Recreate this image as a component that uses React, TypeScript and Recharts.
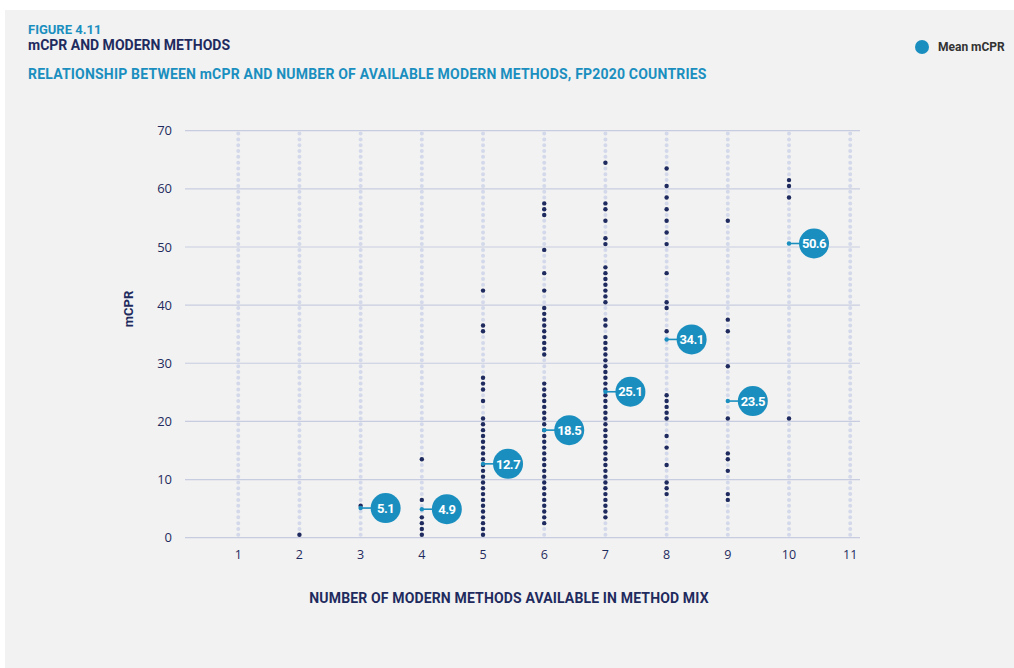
import { ScatterChart, Scatter, XAxis, YAxis, CartesianGrid, ReferenceLine } from 'recharts';

// number of modern methods available in the method mix (x positions)
const methodCounts = [1, 2, 3, 4, 5, 6, 7, 8, 9, 10, 11];
const mcprTicks = [0, 10, 20, 30, 40, 50, 60, 70];

// country mCPR values, one array per method count (dots sit at bin centres)
const mcprTwo = [0.5];
const mcprThree = [5.5];
const mcprFour = [13.5, 6.5, 3.5, 2.5, 1.5, 0.5];
const mcprFive = [
  42.5, 36.5, 35.5, 27.5, 26.5, 25.5, 23.5,
  20.5, 19.5, 18.5, 17.5, 16.5, 15.5, 14.5, 13.5, 12.5, 11.5, 10.5,
  9.5, 8.5, 7.5, 6.5, 5.5, 4.5, 3.5, 2.5, 1.5, 0.5,
];
const mcprSix = [
  57.5, 56.5, 55.5, 49.5, 45.5, 42.5,
  39.5, 38.5, 37.5, 36.5, 35.5, 34.5, 33.5, 32.5, 31.5,
  26.5, 25.5, 24.5, 23.5, 22.5, 21.5, 20.5, 19.5, 18.5, 17.5, 16.5, 15.5, 14.5,
  13.5, 12.5, 11.5, 10.5, 9.5, 8.5, 7.5, 6.5, 5.5, 4.5, 3.5, 2.5,
];
const mcprSeven = [
  64.5, 57.5, 56.5, 54.5, 51.5, 50.5,
  46.5, 45.5, 44.5, 43.5, 42.5, 41.5, 40.5, 37.5, 36.5,
  34.5, 33.5, 32.5, 31.5, 30.5, 29.5, 28.5, 27.5, 26.5, 25.5, 24.5, 23.5, 22.5,
  21.5, 20.5, 19.5, 18.5, 17.5, 16.5, 15.5, 14.5, 13.5, 12.5, 11.5, 10.5, 9.5,
  8.5, 7.5, 6.5, 5.5, 4.5, 3.5,
];
const mcprEight = [
  63.5, 60.5, 58.5, 56.5, 54.5, 52.5, 50.5, 45.5, 40.5, 39.5, 35.5,
  24.5, 23.5, 22.5, 21.5, 20.5, 17.5, 15.5, 12.5, 9.5, 8.5, 7.5,
];
const mcprNine = [54.5, 37.5, 35.5, 29.5, 20.5, 14.5, 13.5, 11.5, 7.5, 6.5];
const mcprTen = [61.5, 60.5, 58.5, 20.5];

// mean mCPR per method count
const meanCounts = [3, 4, 5, 6, 7, 8, 9, 10];
const meanMcpr = [5.1, 4.9, 12.7, 18.5, 25.1, 34.1, 23.5, 50.6];

const countryGroups: [number, number[]][] = [
  [2, mcprTwo], [3, mcprThree], [4, mcprFour], [5, mcprFive], [6, mcprSix],
  [7, mcprSeven], [8, mcprEight], [9, mcprNine], [10, mcprTen],
];
const countryPoints = countryGroups.flatMap(([x, vals]) => vals.map((y) => ({ x, y })));
const meanPoints = meanCounts.map((x, i) => ({ x, y: meanMcpr[i] }));

const NAVY = '#1f2b5e';
const TEAL = '#1a8fbf';
const PLOT_TOP = 130.7;
const PLOT_BOTTOM = 537.7;
const UNIT = (PLOT_BOTTOM - PLOT_TOP) / 70;

function CountryDot(p: any) {
  return <circle cx={p.cx} cy={p.cy} r={2.2} fill={NAVY} />;
}

function MeanMarker(p: any) {
  const { cx, cy, payload } = p;
  return (
    <g>
      <line x1={cx} y1={cy} x2={cx + 12} y2={cy} stroke={TEAL} strokeWidth={1.6} />
      <circle cx={cx} cy={cy} r={2.2} fill={TEAL} />
      <circle cx={cx + 25} cy={cy} r={15} fill={TEAL} />
      <text
        x={cx + 25} y={cy} dy="0.36em" textAnchor="middle"
        fill="#ffffff" fontSize={13} fontWeight={700} fontFamily="Roboto"
        letterSpacing={-0.5}
      >
        {payload.y}
      </text>
    </g>
  );
}

export default function App() {
  return (
    <div style={{ position: 'fixed', left: 0, top: 0, width: 1014, height: 668, background: '#ffffff', overflow: 'hidden' }}>
      <div style={{ position: 'absolute', left: 5, top: 10, width: 1009, height: 658, background: '#f2f2f2' }} />

      <div style={{ position: 'absolute', left: 28, top: 23, fontFamily: 'Roboto', fontWeight: 700, fontSize: 13, lineHeight: '14px', color: TEAL }}>
        FIGURE 4.11
      </div>
      <div style={{ position: 'absolute', left: 28, top: 38, fontFamily: 'Roboto', fontWeight: 700, fontSize: 14, lineHeight: '14px', color: NAVY }}>
        mCPR AND MODERN METHODS
      </div>
      <div style={{ position: 'absolute', left: 28, top: 67, fontFamily: 'Roboto', fontWeight: 700, fontSize: 14, lineHeight: '14px', color: TEAL, letterSpacing: 0.2 }}>
        RELATIONSHIP BETWEEN mCPR AND NUMBER OF AVAILABLE MODERN METHODS, FP2020 COUNTRIES
      </div>

      <div style={{ position: 'absolute', left: 915, top: 40, width: 14, height: 14, borderRadius: 7, background: TEAL }} />
      <div style={{ position: 'absolute', left: 938, top: 40, fontFamily: 'Roboto', fontWeight: 700, fontSize: 12, lineHeight: '14px', color: '#333333' }}>
        Mean mCPR
      </div>

      <div style={{ position: 'absolute', left: 128, top: 309, transform: 'translate(-50%, -50%) rotate(-90deg)', fontFamily: 'Roboto', fontWeight: 700, fontSize: 13, color: NAVY }}>
        mCPR
      </div>
      <div style={{ position: 'absolute', left: 509, top: 598, transform: 'translate(-50%, -50%)', whiteSpace: 'nowrap', fontFamily: 'Roboto', fontWeight: 700, fontSize: 14, color: NAVY, letterSpacing: 0.15 }}>
        NUMBER OF MODERN METHODS AVAILABLE IN METHOD MIX
      </div>

      <div style={{ position: 'absolute', left: 0, top: 0 }}>
        <ScatterChart
          width={1014}
          height={668}
          margin={{ top: PLOT_TOP, right: 154, bottom: 668 - PLOT_BOTTOM - 30, left: 145 }}
        >
          <CartesianGrid horizontal vertical={false} stroke="#c7cce0" strokeWidth={1.2} />
          <XAxis
            type="number" dataKey="x" domain={[0.13, 11.16]} ticks={methodCounts}
            allowDataOverflow height={30} axisLine={false} tickLine={false} tickMargin={6}
            tick={{ fill: NAVY, fontSize: 12.5, fontFamily: 'Open Sans' }}
          />
          <YAxis
            type="number" dataKey="y" domain={[0, 70]} ticks={mcprTicks}
            width={40} axisLine={false} tickLine={false} tickMargin={7}
            tick={{ fill: NAVY, fontSize: 13, fontFamily: 'Open Sans' }}
          />
          {methodCounts.map((m) => (
            <ReferenceLine
              key={m} x={m} stroke="#d3d9ea" strokeWidth={4} strokeLinecap="round"
              strokeDasharray={`0 ${UNIT}`} strokeDashoffset={-UNIT / 2}
            />
          ))}
          <Scatter data={countryPoints} shape={CountryDot} isAnimationActive={false} />
          <Scatter data={meanPoints} shape={MeanMarker} isAnimationActive={false} />
        </ScatterChart>
      </div>
    </div>
  );
}
